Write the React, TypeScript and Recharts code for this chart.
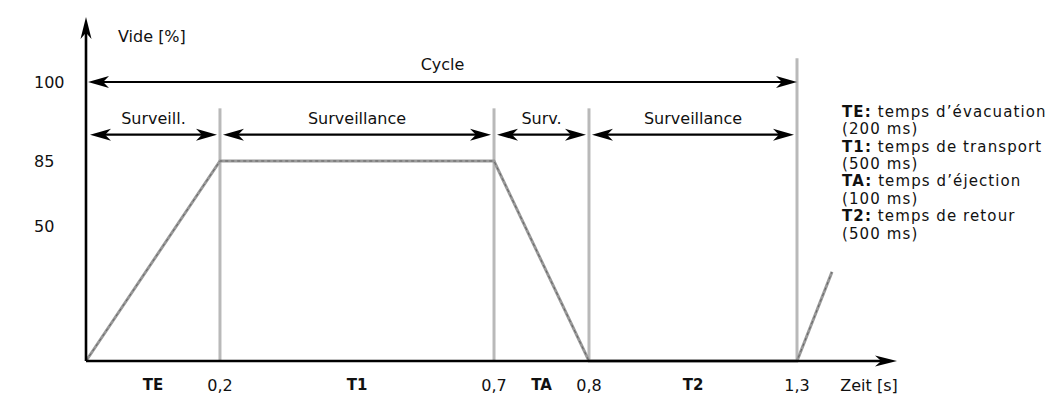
import React from 'react';
import { LineChart, Line, XAxis, YAxis, ReferenceLine } from 'recharts';

// ---------------- data ----------------
const times = [0, 0.2, 0.7, 0.8, 1.3, 1.37];
const vacuum = [0, 85, 85, 0, 0, 33];

const phaseBounds = [0, 0.2, 0.7, 0.8, 1.3];
const phaseNames = ['TE', 'T1', 'TA', 'T2'];
const boundaryLabels = ['0,2', '0,7', '0,8', '1,3'];
const monitorLabels = ['Surveill.', 'Surveillance', 'Surv.', 'Surveillance'];
const markerTops = [95, 95, 95, 111];

const yTickValues = [50, 85, 100];
const yTickLabels = ['50', '85', '100'];

const cycleLabel = 'Cycle';
const cycleLevel = 100;
const monitorLevel = 90;

const xMax = 1.5;
const yMax = 130;
const xTitle = 'Zeit [s]';
const yTitle = 'Vide [%]';

const legendTerms = ['TE', 'T1', 'TA', 'T2'];
const legendDescs = ['temps d’évacuation', 'temps de transport', 'temps d’éjection', 'temps de retour'];
const legendDurations = ['(200 ms)', '(500 ms)', '(100 ms)', '(500 ms)'];

// ---------------- schematic (non-proportional) scales ----------------
const xKnots = [0, 0.2, 0.7, 0.8, 1.3, xMax];
const xFracs = [0, 0.1652, 0.5031, 0.6202, 0.8767, 1];
const yKnots = [0, 50, 85, 100, yMax];
const yFracs = [0, 0.3924, 0.5814, 0.811, 1];

function piecewise(knots: number[], fracs: number[]): any {
  let dom = [knots[0], knots[knots.length - 1]];
  let rng = [0, 1];
  const frac = (v: number) => {
    const n = knots.length;
    for (let i = 0; i < n - 1; i++) {
      if (v <= knots[i + 1] || i === n - 2) {
        const t = (v - knots[i]) / (knots[i + 1] - knots[i]);
        return fracs[i] + t * (fracs[i + 1] - fracs[i]);
      }
    }
    return 0;
  };
  const s: any = (v: number) => rng[0] + frac(Number(v)) * (rng[1] - rng[0]);
  s.domain = (d?: number[]) => {
    if (d === undefined) return dom.slice();
    dom = d.slice();
    return s;
  };
  s.range = (r?: number[]) => {
    if (r === undefined) return rng.slice();
    rng = r.slice();
    return s;
  };
  s.copy = () => {
    const c = piecewise(knots, fracs);
    c.domain(dom);
    c.range(rng);
    return c;
  };
  s.ticks = () => knots.slice();
  s.tickFormat = () => (v: number) => String(v);
  s.invert = (px: number) => {
    const f = (px - rng[0]) / (rng[1] - rng[0]);
    for (let i = 0; i < fracs.length - 1; i++) {
      if (f <= fracs[i + 1] || i === fracs.length - 2) {
        const t = (f - fracs[i]) / (fracs[i + 1] - fracs[i]);
        return knots[i] + t * (knots[i + 1] - knots[i]);
      }
    }
    return knots[0];
  };
  return s;
}

const xScale = piecewise(xKnots, xFracs);
const yScale = piecewise(yKnots, yFracs);

// ---------------- helpers ----------------
const FONT = 'DejaVu Sans';
const data = times.map((t, i) => ({ t, v: vacuum[i] }));

function headPoints(tx: number, ty: number, ux: number, uy: number, len: number, w: number) {
  const bx = tx - ux * len;
  const by = ty - uy * len;
  const px = -uy;
  const py = ux;
  const nx = tx - ux * len * 0.72;
  const ny = ty - uy * len * 0.72;
  return `${tx},${ty} ${bx + px * w},${by + py * w} ${nx},${ny} ${bx - px * w},${by - py * w}`;
}

function axisArrowShape(props: any) {
  const { x1, y1, x2, y2 } = props;
  const dx = x2 - x1;
  const dy = y2 - y1;
  const L = Math.hypot(dx, dy) || 1;
  const ux = dx / L;
  const uy = dy / L;
  return (
    <g>
      <line x1={x1} y1={y1} x2={x2 - ux * 12} y2={y2 - uy * 12} stroke="#000" strokeWidth={2.6} />
      <polygon points={headPoints(x2, y2, ux, uy, 22, 5.5)} fill="#000" />
    </g>
  );
}

function doubleArrowShape(label: string, insetL: number, insetR: number, labelGap: number) {
  return (props: any) => {
    const y = props.y1;
    const a = Math.min(props.x1, props.x2) + insetL;
    const b = Math.max(props.x1, props.x2) - insetR;
    return (
      <g>
        <line x1={a + 10} y1={y} x2={b - 10} y2={y} stroke="#000" strokeWidth={2.2} />
        <polygon points={headPoints(a, y, -1, 0, 21, 6)} fill="#000" />
        <polygon points={headPoints(b, y, 1, 0, 21, 6)} fill="#000" />
        <text x={(a + b) / 2} y={y - labelGap} dy="0.35em" textAnchor="middle" fontFamily={FONT} fontSize={16} fill="#111">
          {label}
        </text>
      </g>
    );
  };
}

const XTick = (props: any) => {
  const { x, y, payload } = props;
  const v = payload.value;
  const bIdx = phaseBounds.indexOf(v);
  let label = '';
  let bold = false;
  if (bIdx > 0) {
    label = boundaryLabels[bIdx - 1];
  } else {
    for (let i = 0; i < phaseNames.length; i++) {
      if (Math.abs((phaseBounds[i] + phaseBounds[i + 1]) / 2 - v) < 1e-9) {
        label = phaseNames[i];
        bold = true;
      }
    }
  }
  return (
    <text x={x} y={y + 24} dy="0.35em" textAnchor="middle" fontFamily={FONT} fontSize={bold ? 15 : 16} fontWeight={bold ? 'bold' : 'normal'} fill="#111">
      {label}
    </text>
  );
};

const YTick = (props: any) => {
  const { x, y, payload } = props;
  const i = yTickValues.indexOf(payload.value);
  return (
    <text x={x - 52} y={y} dy="0.35em" textAnchor="start" fontFamily={FONT} fontSize={16} fill="#111">
      {i >= 0 ? yTickLabels[i] : ''}
    </text>
  );
};

const XTitle = (props: any) => {
  const vb = props.viewBox || {};
  return (
    <text x={vb.x + vb.width - 28} y={vb.y + 24} dy="0.35em" textAnchor="middle" fontFamily={FONT} fontSize={16} fill="#111">
      {xTitle}
    </text>
  );
};

const YTitle = (props: any) => {
  const vb = props.viewBox || {};
  return (
    <text x={vb.x + vb.width + 32} y={vb.y + 19} dy="0.35em" textAnchor="start" fontFamily={FONT} fontSize={16} fill="#111">
      {yTitle}
    </text>
  );
};

const phaseMids = phaseNames.map((_, i) => (phaseBounds[i] + phaseBounds[i + 1]) / 2);
const xTicks = [...phaseMids, ...phaseBounds.slice(1)].sort((a, b) => a - b);

const LEGEND_X = 842;
const LEGEND_TOP = 111.6;
const LEGEND_STEP = 17.4;

export default function App() {
  return (
    <div style={{ position: 'absolute', left: 0, top: 0, width: 1063, height: 400, background: '#fff' }}>
      <LineChart
        width={1063}
        height={400}
        data={data}
        margin={{ top: 17, right: 166, bottom: 0, left: 0 }}
      >
        <XAxis
          dataKey="t"
          type="number"
          domain={[0, xMax]}
          scale={xScale}
          ticks={xTicks}
          interval={0}
          axisLine={false}
          tickLine={false}
          tickSize={0}
          tickMargin={0}
          height={39}
          tick={<XTick />}
          label={XTitle}
        />
        <YAxis
          type="number"
          domain={[0, yMax]}
          scale={yScale}
          ticks={yTickValues}
          interval={0}
          axisLine={false}
          tickLine={false}
          tickSize={0}
          tickMargin={0}
          width={86}
          tick={<YTick />}
          label={YTitle}
        />
        {phaseBounds.slice(1).map((b, i) => (
          <ReferenceLine
            key={`v${i}`}
            segment={[{ x: b, y: 0 }, { x: b, y: markerTops[i] }]}
            stroke="#b9b9b9"
            strokeWidth={3}
            ifOverflow="visible"
          />
        ))}
        <Line
          dataKey="v"
          type="linear"
          stroke="#9a9a9a"
          strokeWidth={3}
          dot={false}
          activeDot={false}
          isAnimationActive={false}
        />
        <Line
          dataKey="v"
          type="linear"
          stroke="#555"
          strokeWidth={0.8}
          strokeDasharray="3 3"
          dot={false}
          activeDot={false}
          isAnimationActive={false}
        />
        <ReferenceLine
          segment={[{ x: 0, y: 0 }, { x: xMax, y: 0 }]}
          shape={axisArrowShape}
          ifOverflow="visible"
        />
        <ReferenceLine
          segment={[{ x: 0, y: 0 }, { x: 0, y: yMax }]}
          shape={axisArrowShape}
          ifOverflow="visible"
        />
        <ReferenceLine
          segment={[{ x: 0, y: cycleLevel }, { x: phaseBounds[4], y: cycleLevel }]}
          shape={doubleArrowShape(cycleLabel, 2, 0, 18)}
          ifOverflow="visible"
        />
        {monitorLabels.map((lab, i) => (
          <ReferenceLine
            key={`m${i}`}
            segment={[{ x: phaseBounds[i], y: monitorLevel }, { x: phaseBounds[i + 1], y: monitorLevel }]}
            shape={doubleArrowShape(lab, i === 0 ? 4 : 3, 3, 16)}
            ifOverflow="visible"
          />
        ))}
        <g>
          {legendTerms.map((term, i) => (
            <g key={`lg${i}`}>
              <text x={LEGEND_X} y={LEGEND_TOP + 2 * i * LEGEND_STEP} dy="0.35em" fontFamily={FONT} fontSize={15} letterSpacing={1.1} fill="#111">
                <tspan fontWeight="bold">{term}:</tspan>
                <tspan> {legendDescs[i]}</tspan>
              </text>
              <text x={LEGEND_X} y={LEGEND_TOP + (2 * i + 1) * LEGEND_STEP} dy="0.35em" fontFamily={FONT} fontSize={15} letterSpacing={1.1} fill="#111">
                {legendDurations[i]}
              </text>
            </g>
          ))}
        </g>
      </LineChart>
    </div>
  );
}
